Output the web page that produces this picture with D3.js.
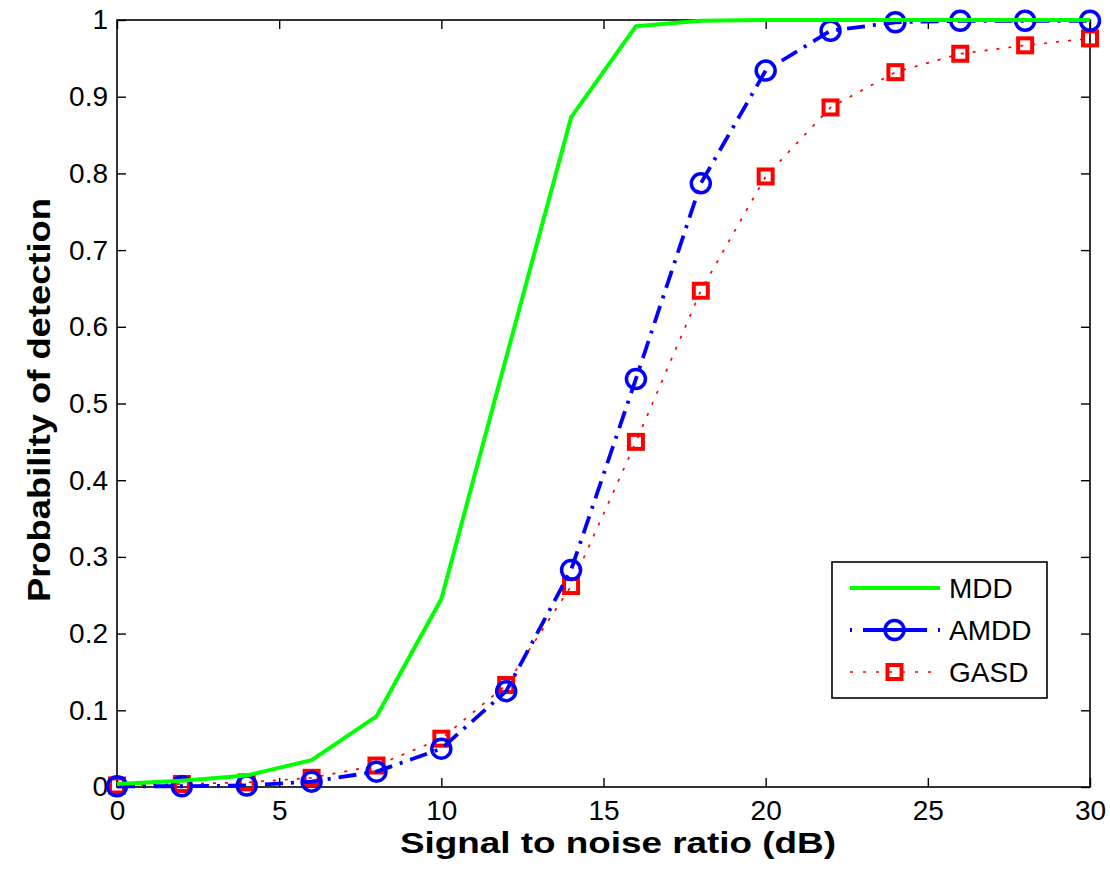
<!DOCTYPE html>
<html>
<head>
<meta charset="utf-8">
<script src="https://cdn.jsdelivr.net/npm/d3@7"></script>
<style>
  html, body { margin: 0; padding: 0; background: #fff; }
  svg { display: block; font-family: Arial, "Liberation Sans", Helvetica, sans-serif; }
</style>
</head>
<body>
<svg id="chart" width="1110" height="872"></svg>
<script>
// SNR sweep (dB)
const snr = [0, 2, 4, 6, 8, 10, 12, 14, 16, 18, 20, 22, 24, 26, 28, 30];

// Probability of detection for each detector
const mdd  = [0.004, 0.008, 0.015, 0.035, 0.092, 0.245, 0.56, 0.873, 0.992, 0.999, 1.0, 1.0, 1.0, 1.0, 1.0, 1.0];
const amdd = [0.001, 0.001, 0.002, 0.007, 0.020, 0.050, 0.125, 0.283, 0.532, 0.787, 0.934, 0.986, 0.997, 0.999, 0.999, 0.999];
const gasd = [0.002, 0.004, 0.006, 0.012, 0.028, 0.063, 0.133, 0.262, 0.450, 0.647, 0.796, 0.886, 0.932, 0.956, 0.967, 0.976];

const seriesNames = ["MDD", "AMDD", "GASD"];

// Axis ticks
const xTicks = [0, 5, 10, 15, 20, 25, 30];
const yTicks = [0, 0.1, 0.2, 0.3, 0.4, 0.5, 0.6, 0.7, 0.8, 0.9, 1];

const xLabel = "Signal to noise ratio (dB)";
const yLabel = "Probability of detection";

const svg = d3.select("#chart");
const plot = { left: 117, right: 1090, top: 20, bottom: 787 };

const x = d3.scaleLinear().domain([0, 30]).range([plot.left, plot.right]);
const y = d3.scaleLinear().domain([0, 1]).range([plot.bottom, plot.top]);

const tickLen = 9;
const tickFmt = d => d3.format("~g")(d);
const tickFont = 28;

// Axes: bottom/left with labels, top/right mirrored ticks only
const axisG = svg.append("g").attr("class", "axes");

axisG.append("g")
  .attr("transform", `translate(0,${plot.bottom})`)
  .call(d3.axisBottom(x).tickValues(xTicks).tickFormat(tickFmt).tickSizeInner(-tickLen).tickSizeOuter(0).tickPadding(13))
  .call(g => g.select(".domain").remove())
  .call(g => g.selectAll("text").attr("font-size", tickFont).attr("fill", "#000"));

axisG.append("g")
  .attr("transform", `translate(${plot.left},0)`)
  .call(d3.axisLeft(y).tickValues(yTicks).tickFormat(tickFmt).tickSizeInner(-tickLen).tickSizeOuter(0).tickPadding(9))
  .call(g => g.select(".domain").remove())
  .call(g => g.selectAll("text").attr("font-size", tickFont).attr("fill", "#000"));

axisG.append("g")
  .attr("transform", `translate(0,${plot.top})`)
  .call(d3.axisTop(x).tickValues(xTicks).tickFormat("").tickSizeInner(-tickLen).tickSizeOuter(0))
  .call(g => g.select(".domain").remove());

axisG.append("g")
  .attr("transform", `translate(${plot.right},0)`)
  .call(d3.axisRight(y).tickValues(yTicks).tickFormat("").tickSizeInner(-tickLen).tickSizeOuter(0))
  .call(g => g.select(".domain").remove());

axisG.selectAll(".tick line").attr("stroke", "#000").attr("stroke-width", 1.4);

// Frame
axisG.append("rect")
  .attr("x", plot.left).attr("y", plot.top)
  .attr("width", plot.right - plot.left).attr("height", plot.bottom - plot.top)
  .attr("fill", "none").attr("stroke", "#000").attr("stroke-width", 1.6);

// Axis titles
svg.append("text")
  .attr("x", 618).attr("y", 853)
  .attr("text-anchor", "middle")
  .attr("font-size", 30).attr("font-weight", "bold")
  .attr("textLength", 436).attr("lengthAdjust", "spacingAndGlyphs")
  .text(xLabel);

svg.append("text")
  .attr("transform", `translate(50,400) rotate(-90)`)
  .attr("text-anchor", "middle")
  .attr("font-size", 31).attr("font-weight", "bold")
  .attr("textLength", 404).attr("lengthAdjust", "spacingAndGlyphs")
  .text(yLabel);

// Series styles
const styles = {
  MDD:  { color: "#00ff00", width: 4,   dash: null,       legendDash: null,              marker: null },
  AMDD: { color: "#0000ff", width: 3.8, dash: "18,8,3,8", legendDash: "2,11,64,11,2,50", marker: "circle" },
  GASD: { color: "#ff0000", width: 1.7, dash: "3,9",      legendDash: "3,10",            marker: "square" }
};
const seriesData = { MDD: mdd, AMDD: amdd, GASD: gasd };

const line = d3.line().x(d => x(d[0])).y(d => y(d[1]));

const linesG = svg.append("g").attr("class", "series");

function drawMarker(g, kind, cx, cy, color) {
  if (kind === "circle") {
    g.append("circle")
      .attr("cx", cx).attr("cy", cy).attr("r", 9.5)
      .attr("fill", "none").attr("stroke", color).attr("stroke-width", 3.5);
  } else if (kind === "square") {
    const s = 14;
    g.append("rect")
      .attr("x", cx - s / 2).attr("y", cy - s / 2)
      .attr("width", s).attr("height", s)
      .attr("fill", "none").attr("stroke", color).attr("stroke-width", 4);
  }
}

// Draw in reverse so MDD sits on top
["GASD", "AMDD", "MDD"].forEach(name => {
  const st = styles[name];
  const pts = snr.map((s, i) => [s, seriesData[name][i]]);
  const g = linesG.append("g");
  g.append("path")
    .datum(pts)
    .attr("d", line)
    .attr("fill", "none")
    .attr("stroke", st.color)
    .attr("stroke-width", st.width)
    .attr("stroke-dasharray", st.dash)
    .attr("stroke-linejoin", "round");
  if (st.marker) {
    pts.forEach(p => drawMarker(g, st.marker, x(p[0]), y(p[1]), st.color));
  }
});

// Legend
const lg = svg.append("g").attr("class", "legend");
const box = { x: 832, y: 562, w: 215, h: 136 };
lg.append("rect")
  .attr("x", box.x).attr("y", box.y).attr("width", box.w).attr("height", box.h)
  .attr("fill", "#fff").attr("stroke", "#000").attr("stroke-width", 1.6);

seriesNames.forEach((name, i) => {
  const st = styles[name];
  const ly = 588 + i * 42;
  lg.append("line")
    .attr("x1", 850).attr("x2", 940).attr("y1", ly).attr("y2", ly)
    .attr("stroke", st.color).attr("stroke-width", st.width)
    .attr("stroke-dasharray", st.legendDash);
  if (st.marker) drawMarker(lg, st.marker, 894.5, ly, st.color);
  lg.append("text")
    .attr("x", 949).attr("y", ly + 10)
    .attr("font-size", 28)
    .text(name);
});
</script>
</body>
</html>
